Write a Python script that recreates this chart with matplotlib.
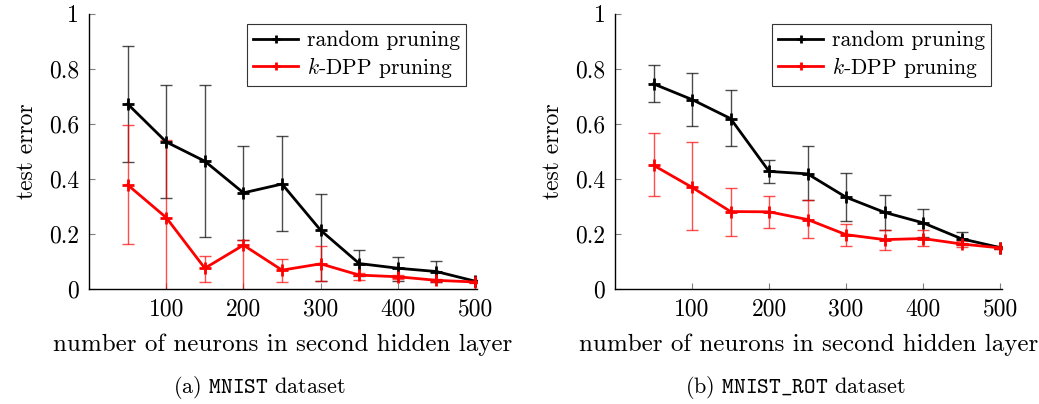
import numpy as np
import matplotlib.pyplot as plt

plt.rcParams['font.family'] = 'serif'
plt.rcParams['font.serif'] = ['cmr10']
plt.rcParams['mathtext.fontset'] = 'cm'
plt.rcParams['axes.unicode_minus'] = False
plt.rcParams['axes.formatter.use_mathtext'] = True

neurons = np.array([50, 100, 150, 200, 250, 300, 350, 400, 450, 500])

# MNIST
mnist_rand = np.array([0.672, 0.534, 0.464, 0.349, 0.381, 0.213, 0.092, 0.075, 0.063, 0.028])
mnist_rand_hi = np.array([0.884, 0.740, 0.741, 0.521, 0.557, 0.345, 0.143, 0.115, 0.100, 0.032])
mnist_rand_lo = np.array([0.461, 0.332, 0.189, 0.177, 0.209, 0.029, 0.046, 0.030, 0.026, 0.024])
mnist_dpp = np.array([0.378, 0.259, 0.075, 0.159, 0.068, 0.091, 0.050, 0.044, 0.031, 0.025])
mnist_dpp_hi = np.array([0.597, 0.542, 0.119, 0.177, 0.110, 0.157, 0.058, 0.052, 0.036, 0.028])
mnist_dpp_lo = np.array([0.163, -0.03, 0.024, -0.02, 0.025, 0.030, 0.034, 0.036, 0.026, 0.022])

# MNIST_ROT
rot_rand = np.array([0.745, 0.688, 0.619, 0.427, 0.418, 0.333, 0.278, 0.240, 0.182, 0.150])
rot_rand_hi = np.array([0.812, 0.783, 0.724, 0.470, 0.518, 0.420, 0.340, 0.289, 0.206, 0.154])
rot_rand_lo = np.array([0.680, 0.593, 0.518, 0.385, 0.322, 0.247, 0.215, 0.190, 0.159, 0.146])
rot_dpp = np.array([0.449, 0.369, 0.281, 0.280, 0.252, 0.197, 0.179, 0.183, 0.163, 0.149])
rot_dpp_hi = np.array([0.565, 0.533, 0.367, 0.337, 0.322, 0.237, 0.215, 0.213, 0.173, 0.153])
rot_dpp_lo = np.array([0.339, 0.213, 0.192, 0.222, 0.185, 0.157, 0.143, 0.155, 0.153, 0.145])

xticks = [100, 200, 300, 400, 500]
yticks = [0, 0.2, 0.4, 0.6, 0.8, 1]
ytick_labels = ['0', '0.2', '0.4', '0.6', '0.8', '1']

fig = plt.figure(figsize=(10.39, 4.04), dpi=100)
ax1 = fig.add_axes([0.0857, 0.285, 0.373, 0.681])
ax2 = fig.add_axes([0.592, 0.285, 0.372, 0.681])


def panel(ax, rand, rlo, rhi, dpp, dlo, dhi):
    # error bars first, then the mean curves on top
    ax.errorbar(neurons, rand, yerr=[rand - rlo, rhi - rand], fmt='none',
                ecolor=(0, 0, 0, 0.7), elinewidth=1, capsize=4, capthick=1, zorder=2)
    ax.errorbar(neurons, dpp, yerr=[dpp - dlo, dhi - dpp], fmt='none',
                ecolor=(1, 0, 0, 0.7), elinewidth=1, capsize=4, capthick=1, zorder=2)
    ax.plot(neurons, rand, color='black', lw=2, marker='+', ms=9, mew=2,
            label='random pruning', zorder=3)
    ax.plot(neurons, dpp, color='red', lw=2, marker='+', ms=9, mew=2,
            label='$k$-DPP pruning', zorder=4)
    ax.set_xlim(0, 502)
    ax.set_ylim(0, 1)
    ax.set_xticks(xticks)
    ax.set_xticklabels([str(t) for t in xticks])
    ax.set_yticks(yticks)
    ax.set_yticklabels(ytick_labels)
    ax.spines['top'].set_visible(False)
    ax.spines['right'].set_visible(False)
    for s in ('left', 'bottom'):
        ax.spines[s].set_linewidth(1.0)
    ax.tick_params(direction='in', length=4, width=0.8, color='grey',
                   labelsize=17, pad=7)
    ax.set_xlabel('number of neurons in second hidden layer', fontsize=18, labelpad=9)
    ax.set_ylabel('test error', fontsize=17, labelpad=8)
    leg = ax.legend(loc='upper right', bbox_to_anchor=(0.99, 0.985), fontsize=15.5,
                    fancybox=False, edgecolor='#333333', framealpha=1,
                    handlelength=2.1, handletextpad=0.4, borderpad=0.3,
                    labelspacing=0.2, borderaxespad=0.3, markerscale=0.7)
    leg.get_frame().set_linewidth(0.8)


panel(ax1, mnist_rand, mnist_rand_lo, mnist_rand_hi, mnist_dpp, mnist_dpp_lo, mnist_dpp_hi)
panel(ax2, rot_rand, rot_rand_lo, rot_rand_hi, rot_dpp, rot_dpp_lo, rot_dpp_hi)

fig.text(0.25, 0.04, r'(a) $\mathtt{MNIST}$ dataset', ha='center', va='center', fontsize=16)
fig.text(0.765, 0.04, r'(b) $\mathtt{MNIST\_ROT}$ dataset', ha='center', va='center', fontsize=16)

fig.savefig('out.png', dpi=100)
